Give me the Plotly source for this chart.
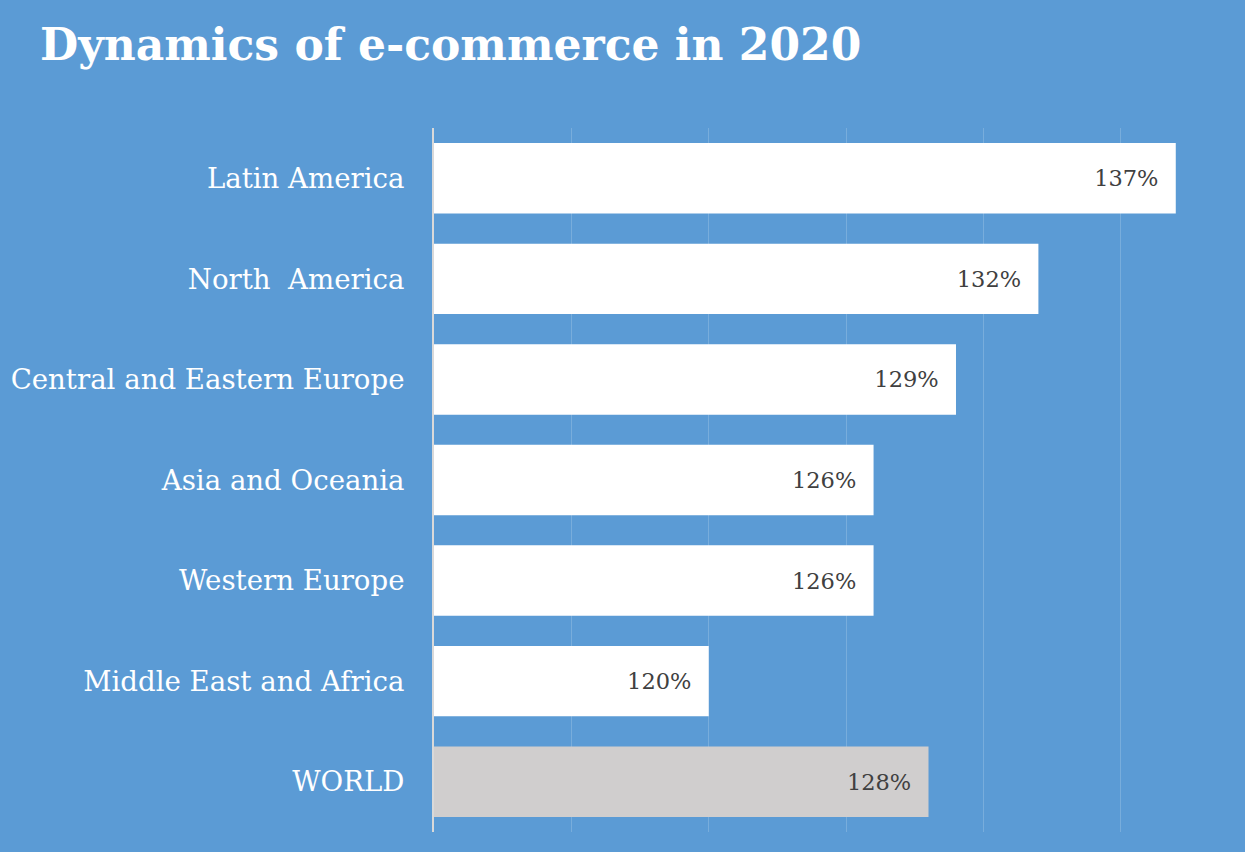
import plotly.graph_objects as go

categories = ["Latin America", "North\u00a0 America", "Central and Eastern Europe",
              "Asia and Oceania", "Western Europe", "Middle East and Africa", "WORLD"]
values = [137, 132, 129, 126, 126, 120, 128]
labels = ["137%", "132%", "129%", "126%", "126%", "120%", "128%"]
bar_colors = ["#FFFFFF"] * 6 + ["#D0CECE"]

BG = "#5B9BD5"
FONT = "DejaVu Serif"

fig = go.Figure(go.Bar(
    y=categories, x=values, orientation="h",
    base=0,
    marker=dict(color=bar_colors, line=dict(width=0)),
    text=[t + "\u00a0\u00a0" for t in labels], textposition="inside", insidetextanchor="end",
    textfont=dict(family=FONT, size=22.5, color="#404040"),
    cliponaxis=False,
))

fig.update_layout(
    width=1245, height=852,
    paper_bgcolor=BG, plot_bgcolor=BG,
    margin=dict(l=434, r=0, t=128, b=20),
    bargap=0.3,
    showlegend=False,
    title=dict(text="<b>Dynamics of e-commerce in 2020</b>",
               font=dict(family=FONT, size=44, color="white"),
               x=40/1245, xanchor="left", xref="container",
               y=1-45/852, yanchor="middle", yref="container"),
    xaxis=dict(range=[110, 139.52], tickvals=[115, 120, 125, 130, 135],
               showticklabels=False, showgrid=True, automargin=False,
               gridcolor="rgba(255,255,255,0.18)", gridwidth=1,
               zeroline=False, showline=False),
    yaxis=dict(autorange="reversed", showline=True, linecolor="#D9D9D9", linewidth=2,
               ticks="", ticklabelstandoff=22, automargin=False,
               tickfont=dict(family=FONT, size=27.6, color="white"),
               showgrid=False),
)

fig.write_html("out.html", config={"displayModeBar": False},
               post_script="document.body.style.margin='0';document.body.style.overflow='hidden';")
